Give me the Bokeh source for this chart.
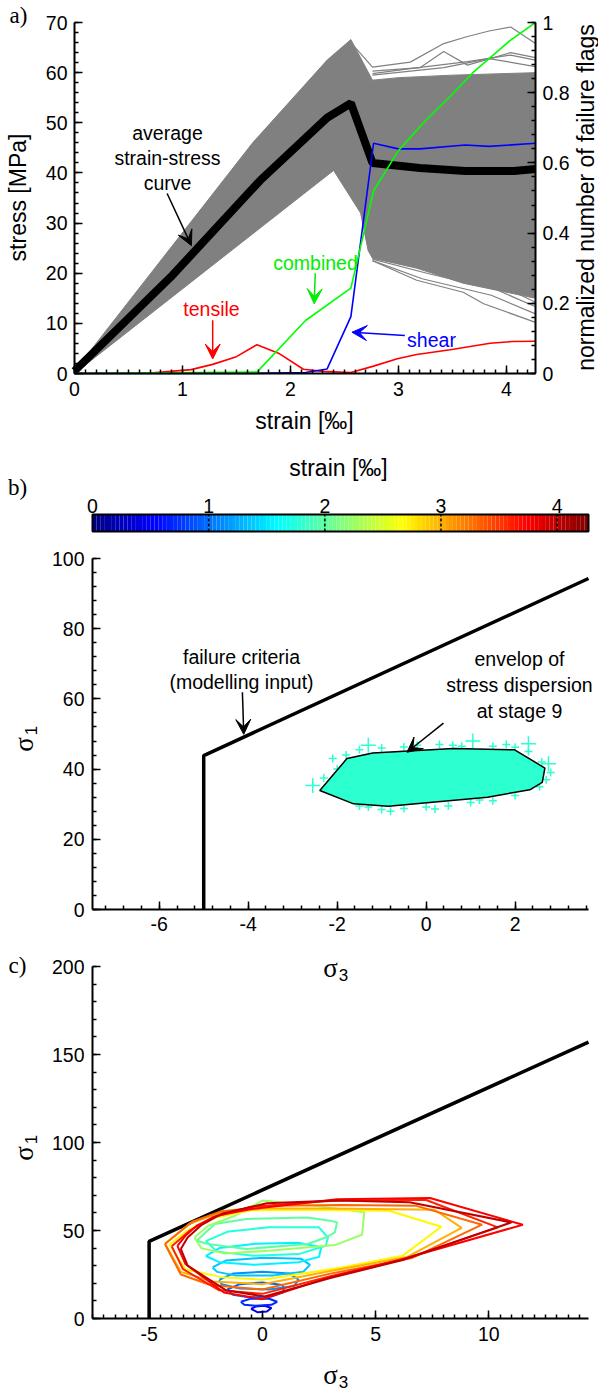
import numpy as np
from bokeh.plotting import figure
from bokeh.models import (Range1d, LinearAxis, FixedTicker, CustomJSTickFormatter,
                          Label, Arrow, VeeHead)
from bokeh.layouts import column
from bokeh.embed import file_html
from bokeh.resources import INLINE

SANS = "Liberation Sans"
SERIF = "Liberation Serif"
TICK_FS = "19.5px"
ANN_FS = "19.5px"
LAB_FS = "23px"
GRAY = "#808080"
CYAN = "#2CFFD0"

# ---------------- Panel a data ----------------
avg_strain = [0, 0.89, 1.72, 2.34, 2.56, 2.76, 3.2, 3.62, 4.07, 4.27]
avg_stress = [0.5, 19.2, 38.5, 51.0, 53.9, 42.0, 41.0, 40.4, 40.4, 40.8]

band_up_strain = [0, 1.65, 2.34, 2.56, 2.76, 3.0, 3.5, 4.27]
band_up_stress = [0.5, 46, 62.5, 66.6, 58.5, 59, 59.5, 60]
band_lo_strain = [0, 2.4, 2.65, 2.72, 2.76, 3.17, 3.6, 4.27]
band_lo_stress = [0, 40.5, 32, 24.5, 23, 21, 18, 15]

hi_lines_strain = [[2.56, 2.76, 3.11, 3.42, 3.64, 3.84, 4.04, 4.27],
                   [2.76, 3.2, 3.42, 3.64, 4.04, 4.27],
                   [2.76, 3.11, 3.64, 4.04, 4.27],
                   [2.76, 3.42, 3.84, 4.27]]
hi_lines_stress = [[66.0, 61.1, 62.1, 65.8, 67.2, 68.3, 69.1, 65.8],
                   [60.3, 61.0, 64.2, 61.5, 64.0, 63.0],
                   [59.8, 60.8, 62.2, 63.5, 62.5],
                   [59.5, 61.0, 62.8, 61.2]]
lo_lines_strain = [[2.76, 3.17, 3.6, 3.79, 4.27],
                   [2.76, 3.22, 3.86, 4.27],
                   [2.76, 3.3, 3.9, 4.27],
                   [2.76, 3.4, 3.95, 4.27]]
lo_lines_stress = [[22.5, 18.6, 16.2, 13.9, 10.2],
                   [22.5, 18.9, 15.6, 11.9],
                   [22.8, 19.8, 16.8, 13.3],
                   [23.0, 20.5, 17.5, 14.2]]

tensile_strain = [0, 0.7, 1.08, 1.28, 1.5, 1.69, 1.9, 2.12, 2.3, 2.56, 2.77, 2.99, 3.17, 3.48, 3.85, 4.05, 4.27]
tensile_flags = [0, 0.001, 0.011, 0.026, 0.048, 0.082, 0.056, 0.012, 0.006, 0.003, 0.021, 0.042, 0.054, 0.0675, 0.086, 0.091, 0.092]
combined_strain = [0, 1.69, 2.14, 2.56, 2.77, 3.0, 3.25, 3.48, 3.7, 4.04, 4.27]
combined_flags = [0, 0.004, 0.151, 0.243, 0.52, 0.635, 0.72, 0.79, 0.86, 0.95, 1.0]
shear_strain = [0, 1.6, 2.14, 2.34, 2.56, 2.77, 3.0, 3.2, 3.62, 3.84, 4.27]
shear_flags = [0, 0, 0.003, 0.013, 0.162, 0.656, 0.64, 0.64, 0.651, 0.647, 0.656]

strain_ticks = [0, 1, 2, 3, 4]
stress_ticks = [0, 10, 20, 30, 40, 50, 60, 70]
flag_ticks = [0, 0.2, 0.4, 0.6, 0.8, 1]

# ---------------- Panel b / c data ----------------
crit_b_s3 = [-5, -5, 3.65]
crit_b_s1 = [0, 43.85, 94.3]
crit_c_s3 = [-5, -5, 14.4]
crit_c_s1 = [0, 43.85, 157.0]

env_s3 = [-2.39, -1.78, -1.2, 0.61, 1.99, 2.67, 2.61, 2.33, 1.38, -0.85, -1.63]
env_s1 = [33.9, 43.0, 44.6, 45.9, 45.5, 40.3, 36.2, 34.1, 32.0, 29.4, 30.1]

cross_small_s3 = [-1.5, -1.0, -0.5, -0.2, 0.3, 0.8, 1.5, 1.8, 2.0, 2.3, -1.8, -2.1, 0.6,
                  2.6, 2.8, 2.7, 2.55, -2.3, -2.0, -2.2,
                  -1.5, -1.0, -0.5, 0.0, 0.5, 1.0, 1.5, 2.0, -0.8, 0.2, -1.3, 1.2]
cross_small_s1 = [45.5, 46.0, 46.3, 46.8, 47.0, 46.5, 46.5, 47.0, 46.2, 45.0, 44.0, 43.0, 46.8,
                  42.0, 39.0, 37.0, 35.0, 37.5, 40.0, 33.8,
                  29.5, 28.5, 28.8, 29.2, 29.5, 30.5, 31.0, 32.5, 28.0, 28.6, 29.2, 31.2]
cross_big_s3 = [-2.55, 1.05, 2.75, 2.3, -1.3]
cross_big_s1 = [35.3, 48.0, 41.5, 47.2, 46.8]

c_strain = [0.45, 0.7, 0.95, 1.15, 1.35, 1.55, 1.75, 2.0, 2.25, 2.7, 3.0, 3.3, 3.6, 3.75, 4.0]
c_s3 = [
    [-0.5, -0.3, 0.1, 0.4, 0.2, -0.2, -0.5],
    [-0.95, -0.5, 0.3, 0.65, 0.4, -0.3, -0.8, -0.95],
    [-1.55, -1.0, 0.0, 0.9, 0.95, 0.4, -0.6, -1.3, -1.55],
    [-1.9, -1.3, 0.0, 1.2, 1.6, 1.4, 0.3, -1.0, -1.8, -1.9],
    [-2.2, -1.6, 0.0, 1.7, 2.1, 1.8, 0.5, -1.2, -2.0, -2.2],
    [-2.5, -1.9, -0.3, 1.6, 2.6, 2.5, 1.6, -0.4, -1.9, -2.5],
    [-2.5, -1.5, 0.3, 2.5, 2.9, 2.8, 1.6, -0.4, -2.0, -2.5],
    [-2.9, -2.1, -0.7, 2.0, 3.0, 3.3, 3.2, 2.8, 2.0, -0.7, -2.4, -2.9],
    [-3.0, -2.4, -1.2, 0.0, 3.0, 4.5, 4.4, 3.2, 0.3, -1.7, -2.7, -3.0],
    [-4.1, -3.3, -2.2, -0.5, 2.0, 5.6, 7.9, 6.2, 3.5, 0.0, -1.8, -3.4, -4.1],
    [-4.3, -3.2, -2.0, 0.0, 3.0, 7.6, 8.8, 6.4, 3.0, 0.0, -2.2, -3.6, -4.3],
    [-4.3, -3.1, -1.8, 0.5, 3.5, 6.8, 9.7, 6.6, 3.0, 0.0, -2.3, -3.6, -4.3],
    [-4.0, -3.2, -2.2, -0.5, 3.3, 7.2, 10.4, 6.2, 3.0, 0.0, -1.9, -3.5, -4.0],
    [-3.75, -3.4, -2.9, -2.0, -0.5, 3.3, 7.4, 11.5, 6.2, 3.0, 0.0, -1.7, -3.4, -3.75],
    [-3.6, -3.3, -2.7, -1.8, 0.2, 3.3, 6.5, 11.0, 6.2, 3.0, 0.1, -1.6, -3.3, -3.6],
]
c_s1 = [
    [5.5, 6.8, 7.2, 6.0, 4.0, 3.5, 5.5],
    [9.5, 11.3, 11.2, 9.5, 7.8, 7.2, 7.8, 9.5],
    [16.5, 19.5, 20.5, 19.0, 15.0, 12.5, 12.0, 13.5, 16.5],
    [22.0, 25.5, 26.5, 25.5, 22.0, 18.5, 16.5, 17.0, 19.5, 22.0],
    [29.0, 33.0, 34.5, 34.0, 30.5, 26.5, 24.5, 24.5, 26.5, 29.0],
    [35.5, 40.0, 42.5, 43.0, 40.5, 35.0, 32.0, 30.5, 32.0, 35.5],
    [44.0, 49.5, 51.8, 51.8, 46.0, 41.3, 36.6, 35.7, 38.0, 44.0],
    [44.2, 53.7, 56.5, 57.4, 55.6, 54.6, 48.9, 46.0, 42.3, 39.5, 42.3, 44.2],
    [46.0, 52.7, 58.4, 67.0, 63.0, 60.3, 47.6, 41.7, 38.5, 37.0, 40.0, 46.0],
    [42.0, 50.0, 57.0, 61.5, 61.8, 61.2, 52.1, 35.7, 29.0, 22.0, 23.5, 28.0, 42.0],
    [42.5, 54.0, 59.5, 62.5, 62.5, 61.8, 51.5, 35.0, 27.0, 19.5, 21.0, 26.5, 42.5],
    [42.3, 55.0, 61.0, 64.0, 64.5, 64.0, 53.3, 34.3, 25.5, 16.5, 19.0, 25.0, 42.3],
    [41.0, 50.0, 57.5, 63.5, 67.0, 67.5, 51.8, 33.6, 24.0, 14.0, 16.0, 28.0, 41.0],
    [41.3, 47.0, 52.7, 58.4, 62.2, 67.7, 68.5, 53.3, 33.8, 23.5, 11.0, 14.8, 31.0, 41.3],
    [39.5, 46.0, 53.0, 59.5, 65.5, 67.0, 66.0, 54.6, 33.2, 23.0, 12.5, 16.0, 30.0, 39.5],
]

STRAIN_MAX = 4.27
cbar_ticks = [0, 1, 2, 3, 4]


def jet(t):
    def c(v):
        return int(round(255 * min(max(v, 0.0), 1.0)))
    return "#%02x%02x%02x" % (c(1.5 - abs(4 * t - 3)), c(1.5 - abs(4 * t - 2)), c(1.5 - abs(4 * t - 1)))


class PixMap:
    """Maps page pixels to data for a figure whose frame fills the whole canvas."""
    def __init__(self, W, H, top, xp, xv, yp, yv):
        self.top = top
        self.sx = (xp[1] - xp[0]) / (xv[1] - xv[0])
        self.sy = ((yp[0] - top) - (yp[1] - top)) / (yv[1] - yv[0])
        self.xp0, self.xv0 = xp[0], xv[0]
        self.yp0, self.yv0 = yp[0] - top, yv[0]
        self.x_range = Range1d(self.x(0), self.x(W))
        self.y_range = Range1d(self.yl(H), self.yl(0))

    def x(self, px):
        return self.xv0 + (px - self.xp0) / self.sx

    def yl(self, py_local):
        return self.yv0 + (self.yp0 - py_local) / self.sy

    def y(self, py_page):
        return self.yl(py_page - self.top)


FMT = "return tick.toString();"


def style_axis(ax, ticks, minor, standoff, loc, bounds):
    ax.ticker = FixedTicker(ticks=ticks, minor_ticks=minor)
    ax.formatter = CustomJSTickFormatter(code=FMT)
    ax.fixed_location = loc
    ax.bounds = bounds
    ax.axis_line_width = 2
    ax.axis_line_color = "black"
    ax.major_tick_in = 8
    ax.major_tick_out = 0
    ax.minor_tick_in = 4
    ax.minor_tick_out = 0
    ax.major_tick_line_width = 1.5
    ax.minor_tick_line_width = 1.5
    ax.major_label_text_font = SANS
    ax.major_label_text_font_size = TICK_FS
    ax.major_label_text_color = "black"
    ax.major_label_standoff = standoff


def base_fig(W, H, m, **kw):
    p = figure(width=W, height=H, min_border=0, title=None, output_backend="svg",
               toolbar_location=None, x_range=m.x_range, y_range=m.y_range, **kw)
    p.grid.visible = False
    p.outline_line_color = None
    p.background_fill_color = "white"
    p.border_fill_color = "white"
    return p


def label(p, m, px, py, text, size=ANN_FS, color="black", font=SANS, angle=0, align="center"):
    p.add_layout(Label(x=m.x(px), y=m.y(py), text=text, text_font=font, text_font_size=size,
                       text_color=color, text_align=align, text_baseline="middle",
                       angle=angle, angle_units="deg"))


def sigma(p, m, px, py, sub, vertical=False):
    if vertical:
        label(p, m, px, py, "σ", size="27px", font=SERIF, angle=90)
        label(p, m, px + 7, py - 14, sub, size="17px", angle=90)
    else:
        label(p, m, px, py, "σ", size="27px", font=SERIF)
        label(p, m, px + 13, py + 7, sub, size="17px")


def arrow(p, x0, y0, x1, y1, color):
    p.add_layout(Arrow(end=VeeHead(size=15, fill_color=color, line_color=color, line_width=1),
                       x_start=x0, y_start=y0, x_end=x1, y_end=y1,
                       line_color=color, line_width=1.5))


W = 598

# ================= Panel a =================
ma = PixMap(W, 445, 0, (74, 535), (0, STRAIN_MAX), (373, 22), (0, 70))
fa = base_fig(W, 445, ma)
fa.extra_y_ranges = {"flags": Range1d(ma.y_range.start / 70, ma.y_range.end / 70)}

band_x = band_up_strain + band_lo_strain[::-1]
band_y = band_up_stress + band_lo_stress[::-1]
fa.patch(band_x, band_y, fill_color=GRAY, line_color=GRAY, line_width=1)
fa.multi_line(hi_lines_strain, hi_lines_stress, line_color=GRAY, line_width=1.2)
fa.multi_line(lo_lines_strain, lo_lines_stress, line_color=GRAY, line_width=1.2)
fa.line(avg_strain, avg_stress, line_color="black", line_width=8)
fa.line(tensile_strain, tensile_flags, y_range_name="flags", line_color="#FF0000", line_width=1.6)
fa.line(shear_strain, shear_flags, y_range_name="flags", line_color="#0000FF", line_width=1.6)
fa.line(combined_strain, combined_flags, y_range_name="flags", line_color="#00FF00", line_width=1.6)

style_axis(fa.xaxis[0], strain_ticks, [round(0.1 * i, 2) for i in range(0, 43)], 8, 0, (0, STRAIN_MAX))
style_axis(fa.yaxis[0], stress_ticks, list(range(0, 71, 2)), 7, 0, (0, 70))
ax_r = LinearAxis(y_range_name="flags")
style_axis(ax_r, flag_ticks, [round(0.04 * i, 2) for i in range(0, 26)], 7, STRAIN_MAX, (0, 1))
fa.add_layout(ax_r, "right")

label(fa, ma, 17, 197, "stress [MPa]", size=LAB_FS, angle=90)
label(fa, ma, 304, 420, "strain [‰]", size=LAB_FS)
label(fa, ma, 585, 197, "normalized number of failure flags", size=LAB_FS, angle=90)
label(fa, ma, 18, 15, "a)", size="23px", font=SERIF)

label(fa, ma, 167, 132, "average")
label(fa, ma, 167, 157, "strain-stress")
label(fa, ma, 167, 182, "curve")
arrow(fa, 0.858, 35.9, 1.083, 25.5, "black")
label(fa, ma, 211, 308, "tensile", color="#FF0000")
arrow(fa, 1.28, 10.6, 1.28, 2.9, "#FF0000")
label(fa, ma, 315, 262, "combined", color="#00EE00")
arrow(fa, 2.23, 20.0, 2.22, 13.9, "#00EE00")
label(fa, ma, 431, 339, "shear", color="#0000FF")
arrow(fa, 3.06, 7.6, 2.57, 8.24, "#0000FF")

# ================= Colour bar =================
mcb = PixMap(W, 95, 445, (92, 588), (0, STRAIN_MAX), (531, 514), (0, 1))
fcb = base_fig(W, 95, mcb, x_axis_location="above", y_axis_location=None)
nb = 128
edges = np.linspace(0, STRAIN_MAX, nb + 1)
mids = 0.5 * (edges[:-1] + edges[1:])
fcb.quad(left=edges[:-1], right=edges[1:], bottom=0, top=1,
         fill_color=[jet(v / STRAIN_MAX) for v in mids], line_color=None)
fcb.segment(x0=cbar_ticks[1:], y0=0, x1=cbar_ticks[1:], y1=1, line_color="black",
            line_width=1.5, line_dash="3 2")
fcb.quad(left=0, right=STRAIN_MAX, bottom=0, top=1, fill_color=None, line_color="black", line_width=2)
axc = fcb.xaxis[0]
style_axis(axc, cbar_ticks, [], 2, 1, (0, STRAIN_MAX))
axc.major_tick_in = 0
axc.minor_tick_in = 0
axc.axis_line_color = None
label(fcb, mcb, 338, 467, "strain [‰]", size=LAB_FS)
label(fcb, mcb, 17, 487, "b)", size="23px", font=SERIF)

# ================= Panel b =================
mb = PixMap(W, 400, 540, (92, 588), (-7.5, 3.65), (909, 558), (0, 100))
fb = base_fig(W, 400, mb)
fb.patch(env_s3, env_s1, fill_color=CYAN, line_color=None)
fb.scatter(cross_small_s3, cross_small_s1, marker="cross", size=8, line_color=CYAN, line_width=1.5)
fb.scatter(cross_big_s3, cross_big_s1, marker="cross", size=15, line_color=CYAN, line_width=1.5)
fb.patch(env_s3 + env_s3[:1], env_s1 + env_s1[:1], fill_color=None, line_color="black", line_width=1.5)
fb.line(crit_b_s3, crit_b_s1, line_color="black", line_width=3.5)
style_axis(fb.xaxis[0], [-6, -4, -2, 0, 2], [round(-7.2 + 0.4 * i, 2) for i in range(0, 28)], 7, 0, (-7.5, 3.65))
style_axis(fb.yaxis[0], [0, 20, 40, 60, 80, 100], list(range(0, 101, 4)), 8, -7.5, (0, 100))
sigma(fb, mb, 23, 744, "1", vertical=True)
label(fb, mb, 241, 656, "failure criteria")
label(fb, mb, 241, 681, "(modelling input)")
arrow(fb, -4.13, 61.9, -4.10, 49.9, "black")
label(fb, mb, 519, 658, "envelop of")
label(fb, mb, 519, 684, "stress dispersion")
label(fb, mb, 519, 710, "at stage 9")
arrow(fb, 0.39, 53.1, -0.43, 44.8, "black")

# ================= Panel c =================
mc = PixMap(W, 450, 940, (92, 588), (-7.5, 14.4), (1318, 966), (0, 200))
fc = base_fig(W, 450, mc)
fc.line(crit_c_s3, crit_c_s1, line_color="black", line_width=3.5)
fc.multi_line(c_s3, c_s1, line_color=[jet(s / STRAIN_MAX) for s in c_strain], line_width=2)
style_axis(fc.xaxis[0], [-5, 0, 5, 10], [round(-7.5 + 0.5 * i, 2) for i in range(0, 44)], 8, 0, (-7.5, 14.4))
style_axis(fc.yaxis[0], [0, 50, 100, 150, 200], list(range(0, 201, 10)), 8, -7.5, (0, 200))
sigma(fc, mc, 330, 967, "3")          # x-axis title of panel b
sigma(fc, mc, 330, 1374, "3")         # x-axis title of panel c
sigma(fc, mc, 23, 1153, "1", vertical=True)
label(fc, mc, 17, 965, "c)", size="23px", font=SERIF)

layout = column(fa, fcb, fb, fc, spacing=0)
open("out.html", "w").write(file_html(layout, INLINE))
